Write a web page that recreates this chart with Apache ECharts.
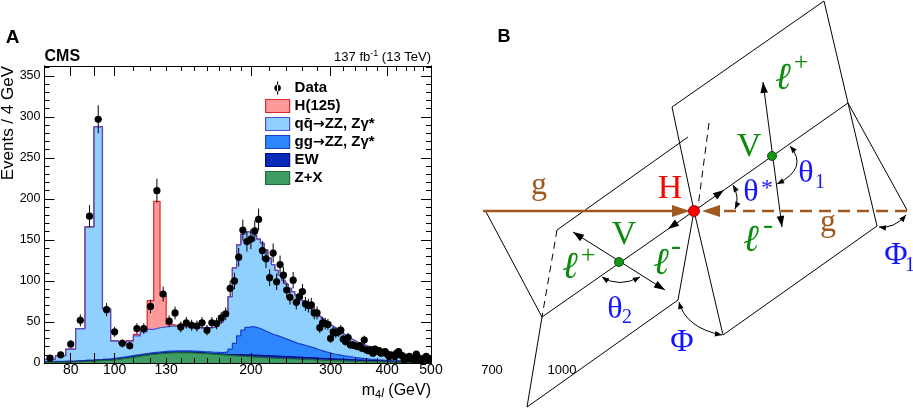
<!DOCTYPE html>
<html><head><meta charset="utf-8">
<script src="https://cdn.jsdelivr.net/npm/echarts@6/dist/echarts.min.js"></script>
<style>html,body{margin:0;padding:0;background:#fff}#c{width:913px;height:409px}</style>
</head><body><div id="c"></div>
<script>
// ---------------- DATA (panel A) ----------------
const binLow = 70, binWidth = 4;   // GeV, 108 bins 70..502
const zxBkg = [
0.8,1.0,1.3,1.7,2.2,2.8,3.5,4.5,5.7,7.0,
8.3,9.5,10.5,11.3,11.9,12.3,12.5,12.5,12.4,12.2,
11.9,11.5,11.1,10.7,10.3,9.9,9.5,9.1,8.7,8.3,
8.0,7.7,7.4,7.1,6.8,6.5,6.3,6.1,5.9,5.7,
5.5,5.3,5.2,5.0,4.9,4.8,4.6,4.5,4.3,4.2,
4.0,3.9,3.7,3.6,3.4,3.3,3.2,3.0,2.9,2.8,
2.7,2.6,2.5,2.4,2.3,2.2,2.1,2.0,1.9,1.85,
1.8,1.7,1.65,1.6,1.5,1.45,1.4,1.35,1.3,1.25,
1.2,1.15,1.1,1.05,1.0,0.98,0.95,0.92,0.9,0.87,
0.84,0.82,0.8,0.77,0.75,0.72,0.7,0.68,0.66,0.64,
0.62,0.6,0.58,0.56,0.54,0.52,0.5,0.5];
const ewBkg = [
0.4,0.4,0.5,0.5,0.6,0.6,0.6,0.6,0.7,0.7,
0.7,0.7,0.8,0.8,0.8,0.8,0.8,0.8,0.8,0.8,
0.8,0.8,0.8,0.8,0.9,0.9,1.0,1.2,1.5,1.8,
2.0,2.2,2.3,2.4,2.5,2.5,2.6,2.6,2.6,2.6,
2.6,2.6,2.6,2.5,2.5,2.5,2.5,2.4,2.4,2.4,
2.3,2.3,2.3,2.2,2.2,2.2,2.1,2.1,2.1,2.0,
2.0,2.0,1.9,1.9,1.9,1.8,1.8,1.8,1.7,1.7,
1.7,1.6,1.6,1.6,1.5,1.5,1.5,1.4,1.4,1.4,
1.3,1.3,1.3,1.2,1.2,1.2,1.1,1.1,1.1,1.0,
1.0,1.0,1.0,0.9,0.9,0.9,0.9,0.8,0.8,0.8,
0.8,0.8,0.7,0.7,0.7,0.7,0.7,0.7];
const ggZZ = [
0.8,0.9,0.9,1.0,1.0,1.1,1.1,1.1,1.2,1.2,
1.2,1.3,1.3,1.3,1.4,1.4,1.4,1.4,1.5,1.5,
1.5,1.5,1.6,1.6,1.7,1.8,3.0,6.7,13.8,22.9,
30.0,33.6,34.8,34.0,32.7,31.0,29.1,27.3,26.0,24.7,
23.4,22.1,20.7,19.5,18.1,16.7,15.9,15.1,14.3,13.4,
12.7,11.6,10.5,9.7,8.9,8.0,7.3,6.7,6.0,5.6,
5.1,4.6,4.3,4.0,3.6,3.4,3.1,2.8,2.7,2.4,
2.2,2.1,1.9,1.7,1.6,1.5,1.3,1.2,1.1,1.0,
0.9,0.9,0.8,0.8,0.7,0.6,0.6,0.6,0.5,0.5,
0.5,0.5,0.5,0.5,0.5,0.4,0.4,0.4,0.4,0.4,
0.4,0.4,0.4,0.4,0.4,0.4,0.4,0.4];
const qqZZ = [
2.5,6.7,14.3,38.8,162.2,283.5,60.8,20.8,16.4,17.6,
22.8,26.5,28.4,29.6,29.9,30.5,30.3,29.8,29.3,29.0,
28.8,29.2,29.5,30.4,32.6,37.4,43.5,64.0,92.0,111.0,
117.0,116.5,114.5,112.5,109.0,106.0,100.0,92.0,85.5,80.0,
75.5,71.0,67.5,64.0,61.5,59.0,57.0,54.0,52.0,50.0,
48.0,45.2,43.5,41.5,39.5,37.5,35.9,34.2,33.0,31.6,
29.7,27.8,26.3,24.7,23.2,22.1,21.0,19.9,18.7,18.0,
17.3,16.6,15.8,15.1,14.4,13.7,13.2,12.6,12.1,11.5,
11.1,10.5,10.1,9.6,9.3,8.9,8.5,8.2,7.9,7.6,
7.3,7.0,6.7,6.5,6.2,6.1,5.9,5.7,5.5,5.4,
5.2,5.0,4.9,4.7,4.6,4.5,4.3,4.2];
const higgs = [
0,0,0,0,0,0,0,0,0.4,0.8,
2.0,3.6,35,154,38,2.0,0.6,0.3,0,0,
0,0,0,0,0,0,0,0,0,0,
0,0,0,0,0,0,0,0,0,0,
0,0,0,0,0,0,0,0,0,0,
0,0,0,0,0,0,0,0,0,0,
0,0,0,0,0,0,0,0,0,0,
0,0,0,0,0,0,0,0,0,0,
0,0,0,0,0,0,0,0,0,0,
0,0,0,0,0,0,0,0,0,0,
0,0,0,0,0,0,0,0];
const dataCounts = [
6,10,23,52,179,297,65,38,24,21,
42,42,69,210,84,51,61,44,49,46,
45,49,40,49,48,55,60,91,100,129,
162,148,151,161,175,137,127,104,134,99,
120,107,89,80,101,74,81,87,72,70,
71,61,61,43,49,48,47,30,38,37,
38,40,29,26,31,22,22,21,20,21,
18,28,16,15,16,12,17,14,15,12,
13,14,11,8,10,9,8,12,14,10,
9,4,7,6,8,5,6,4,11,7,
5,4,5,6,8,4,3,5];
const xLabelValues = [80,100,130,200,300,400,500];
const xLongTicks = [80,90,100,200,300,400];
const xShortTicks = [110,120,130,140,150,160,170,180,190,220,240,260,280,320,340,360,380,420,440,460,480];
const yLabelValues = [0,50,100,150,200,250,300,350];
const yShortTicks = [10,20,30,40,60,70,80,90,110,120,130,140,160,170,180,190,210,220,230,240,260,270,280,290,310,320,330,340,360];
const legendNames = ['Data','H(125)','q\u0071\u0304\u2192ZZ, Z\u03B3*','gg\u2192ZZ, Z\u03B3*','EW','Z+X'];

// ---------------- build ----------------
const L = Math.log10;
function cumulate(a,b){ return a.map((v,i)=>v+b[i]); }
const c1 = zxBkg.slice();
const c2 = cumulate(c1, ewBkg);
const c3 = cumulate(c2, ggZZ);
const c4 = cumulate(c3, qqZZ);
const c5 = cumulate(c4, higgs);
function stepPts(vals){
  const pts=[];
  vals.forEach((v,i)=>{ const lo=binLow+binWidth*i; pts.push([L(lo),v],[L(lo+binWidth),v]); });
  return pts;
}
const sans = "'Liberation Sans', Arial, Helvetica, sans-serif";
const serif = "'Liberation Serif','DejaVu Serif','Times New Roman',serif";
const styles = [
  {fill:'#ff9a9a', line:'#e0262a'},
  {fill:'#8fd0ff', line:'#4b50d0'},
  {fill:'#2e86ff', line:'#1840c8'},
  {fill:'#0a2ab8', line:'#000c80'},
  {fill:'#3f9d63', line:'#1e6b3a'}
];
const stacks = [c5,c4,c3,c2,c1];
const seriesNames = legendNames.slice(1);
const histSeries = stacks.map((c,k)=>({
  name: seriesNames[k], type:'line', data: stepPts(c), symbol:'none', showSymbol:false,
  lineStyle:{color:styles[k].line, width:1.2}, areaStyle:{color:styles[k].fill, opacity:1},
  itemStyle:{color:styles[k].fill}, clip:true, silent:true, z:2
}));
const dataPts = dataCounts.map((n,i)=>[L(binLow+binWidth*i+binWidth/2), n, Math.sqrt(n)]);
const dataSeries = {
  name:'Data', type:'custom', clip:true, z:8, itemStyle:{color:'#000'}, data: dataPts,
  renderItem:(params, api)=>{
    const x=api.value(0), y=api.value(1), e=api.value(2);
    const p=api.coord([x,y]), lo=api.coord([x,Math.max(0,y-e)]), hi=api.coord([x,y+e]);
    return {type:'group', children:[
      {type:'line', shape:{x1:p[0],y1:lo[1],x2:p[0],y2:hi[1]}, style:{stroke:'#000',lineWidth:1}},
      {type:'circle', shape:{cx:p[0],cy:p[1],r:3.6}, style:{fill:'#000'}}
    ]};
  }
};
const xMin=L(70), xMax=L(500);
function xAx(pos, longT, withLabel){
  return {type:'value', position:pos, min:xMin, max:xMax, z:10, gridIndex:0,
    axisLine:{show:true, onZero:false, lineStyle:{color:'#000', width:1}},
    axisTick:{show:true, inside:true, length: longT?10:5, customValues:(longT?xLongTicks:xShortTicks).map(L), lineStyle:{color:'#000',width:1}},
    axisLabel: withLabel ? {show:true, customValues:xLabelValues.map(L), formatter:v=>String(Math.round(Math.pow(10,v))), margin:0, fontSize:14, color:'#000', fontFamily:sans} : {show:false},
    splitLine:{show:false}};
}
function yAx(pos, longT, withLabel){
  return {type:'value', position:pos, min:0, max:362, z:10, gridIndex:0,
    axisLine:{show:true, onZero:false, lineStyle:{color:'#000', width:1}},
    axisTick:{show:true, inside:true, length: longT?10:5, customValues: longT?yLabelValues:yShortTicks, lineStyle:{color:'#000',width:1}},
    axisLabel: withLabel ? {show:true, customValues:yLabelValues, margin:4, fontSize:12.5, color:'#000', fontFamily:sans} : {show:false},
    splitLine:{show:false}};
}
const dataIcon = 'path://M4.4,0H5.6V14H4.4Z M1.5,7A3.5,3.5,0,1,0,8.5,7A3.5,3.5,0,1,0,1.5,7Z';

// ---------------- panel B diagram (drawing, not data) ----------------
const G = [];
const brown='#a0581e', green='#0b8a0b', blue='#1414ff', red='#ff0000';
function seg(a, dash, color, w){ G.push({type:'line', silent:true, z:20, shape:{x1:a[0],y1:a[1],x2:a[2],y2:a[3]}, style:{stroke:color||'#000', lineWidth:w||1, lineDash:dash||null}}); }
function head(tx,ty,dx,dy,len,half,color){
  const n=Math.hypot(dx,dy), ux=dx/n, uy=dy/n, bx=tx-ux*len, by=ty-uy*len;
  G.push({type:'polygon', silent:true, z:21, shape:{points:[[tx,ty],[bx-uy*half,by+ux*half],[bx+uy*half,by-ux*half]]}, style:{fill:color||'#000'}});
}
function arc(p1,cp,p2){
  G.push({type:'bezierCurve', silent:true, z:20, shape:{x1:p1[0],y1:p1[1],x2:p2[0],y2:p2[1],cpx1:cp[0],cpy1:cp[1]}, style:{stroke:'#000',lineWidth:1,fill:'none'}});
  head(p1[0],p1[1],p1[0]-cp[0],p1[1]-cp[1],7,2.8);
  head(p2[0],p2[1],p2[0]-cp[0],p2[1]-cp[1],7,2.8);
}
function txt(s,x,y,size,color,fam,fstyle,weight,align,rot){
  const el={type:'text', silent:true, z:25, x:x, y:y, style:{text:s, fill:color, fontSize:size, fontFamily:fam, fontStyle:fstyle||'normal', fontWeight:weight||'normal', align:align||'center', verticalAlign:'middle', textAlign:align||'center', textVerticalAlign:'middle'}};
  if(rot) el.rotation=rot;
  G.push(el);
}
[[672,107,824,1],[824,1,848,103],[672,107,694,211],[694,211,848,103],[848,103,877,226],[848,103,907,210],
 [557,230,688,137],[485,210,542,317],[542,317,694,211],[542,317,527,407],[527,407,678,300],[678,300,694,211],
 [694,211,723,335],[723,335,877,226],[763,82,782,227],[573,232,665,290]].forEach(a=>seg(a));
[[709,123,698,207],[557,230,542,317]].forEach(a=>seg(a,[7,5]));
[[724,190,154,-108],[763,82,-8,-74],[782,227,10,71],[668,229,-152,106],[573,232,-46,-30],[665,290,46,28]].forEach(h=>head(h[0],h[1],h[2],h[3],11,3.8));
arc([790,146],[809,168],[777,184]);
arc([733,185],[740,198],[735,209]);
arc([602,277],[619,288],[640,277]);
arc([679,302],[686,328],[722,335]);
arc([879,227],[894,229],[906,215]);
seg([483,211,676,211],null,brown,2.6); head(690,211,1,0,18,6,brown);
seg([907,211,718,211],[12,7],brown,2.6); head(702,211,-1,0,18,6,brown);
G.push({type:'circle', silent:true, z:22, shape:{cx:694,cy:211,r:5.5}, style:{fill:red, stroke:'#7a0000', lineWidth:0.8}});
G.push({type:'circle', silent:true, z:22, shape:{cx:772,cy:156,r:4.5}, style:{fill:'#129a12', stroke:'#003300', lineWidth:0.8}});
G.push({type:'circle', silent:true, z:22, shape:{cx:619,cy:262,r:4.5}, style:{fill:'#129a12', stroke:'#003300', lineWidth:0.8}});
txt('B',504,37,18,'#000',sans,'normal','bold');
txt('g',539,186,32,brown,serif);
txt('H',670,189,34,red,serif);
txt('V',749,147,34,green,serif);
txt('\u2113',783,79,38,green,serif,'italic');
txt('+',801,63,26,green,serif);
txt('\u03B8',751,193,32,blue,serif);
txt('*',767,189,24,blue,serif);
txt('\u03B8',806,174,32,blue,serif);
txt('1',820,183,20,blue,serif);
txt('\u2113',751,241,38,green,serif,'italic');
txt('-',768,226,30,green,serif);
txt('g',828,223,32,brown,serif);
txt('\u03A6',896,256,32,blue,serif);
txt('1',910,266,20,blue,serif);
txt('V',624,235,34,green,serif);
txt('\u2113',570,268,38,green,serif,'italic');
txt('+',588,256,26,green,serif);
txt('\u2113',661,264,38,green,serif,'italic');
txt('-',676,247,30,green,serif);
txt('\u03B8',615,310,32,blue,serif);
txt('2',627,318,20,blue,serif);
txt('\u03A6',682,343,32,blue,serif);
txt('700',492,370,13,'#000',sans);
txt('1000',562,370,13,'#000',sans);
// panel A texts
txt('A',12.5,38,19,'#000',sans,'normal','bold');
txt('CMS',44.5,56.5,16,'#000',sans,'normal','bold','left');
txt('Events / 4 GeV',8,66,17,'#000',sans,'normal','normal','right',Math.PI/2);
G.push({type:'text', silent:true, z:25, x:431, y:57.5, style:{text:'137 fb{s|-1} (13 TeV)', fill:'#000', fontSize:13, fontFamily:sans, lineHeight:16, align:'right', verticalAlign:'middle', textAlign:'right', textVerticalAlign:'middle',
  rich:{s:{fontSize:9, fontFamily:sans, lineHeight:9, verticalAlign:'top', fill:'#000'}}}});
G.push({type:'text', silent:true, z:25, x:431, y:391, style:{text:'{m|m}{s|4}{si|l}{m| (GeV)}', fill:'#000', fontSize:16, fontFamily:sans, align:'right', verticalAlign:'middle', textAlign:'right', textVerticalAlign:'middle',
  rich:{m:{fontSize:16, fontFamily:sans, lineHeight:18, fill:'#000'}, s:{fontSize:11, fontFamily:sans, lineHeight:11, verticalAlign:'bottom', fill:'#000'}, si:{fontSize:12, fontFamily:sans, fontStyle:'italic', lineHeight:12, verticalAlign:'bottom', fill:'#000'}}}});

// ---------------- chart ----------------
const chart = echarts.init(document.getElementById('c'), null, {renderer:'canvas'});
chart.setOption({
  animation:false,
  backgroundColor:'#fff',
  grid:{left:44.5, top:66, right:482, bottom:46, containLabel:false, outerBoundsMode:'none'},
  xAxis:[xAx('bottom',true,true), xAx('bottom',false,false), xAx('top',true,false), xAx('top',false,false)],
  yAxis:[yAx('left',true,true), yAx('left',false,false), yAx('right',true,false), yAx('right',false,false)],
  legend:{orient:'vertical', left:265, top:80.5, padding:0, itemWidth:24, itemHeight:13, itemGap:3, selectedMode:false,
    formatter: name => name.split('\u2192').join('{r|\u2192}'),
    textStyle:{fontFamily:sans, fontWeight:'bold', fontSize:15, lineHeight:15, color:'#000',
      rich:{r:{fontFamily:"'DejaVu Sans', sans-serif", fontWeight:'bold', fontSize:14, lineHeight:15, color:'#000'}}},
    data:[
      {name:legendNames[0], icon:dataIcon, itemStyle:{color:'#000', borderWidth:0}},
      {name:legendNames[1], icon:'rect', itemStyle:{color:styles[0].fill, borderColor:styles[0].line, borderWidth:1.2}},
      {name:legendNames[2], icon:'rect', itemStyle:{color:styles[1].fill, borderColor:styles[1].line, borderWidth:1.2}},
      {name:legendNames[3], icon:'rect', itemStyle:{color:styles[2].fill, borderColor:styles[2].line, borderWidth:1.2}},
      {name:legendNames[4], icon:'rect', itemStyle:{color:styles[3].fill, borderColor:styles[3].line, borderWidth:1.2}},
      {name:legendNames[5], icon:'rect', itemStyle:{color:styles[4].fill, borderColor:styles[4].line, borderWidth:1.2}}
    ]},
  series: histSeries.concat([dataSeries]),
  graphic:{elements:G}
});
</script></body></html>
